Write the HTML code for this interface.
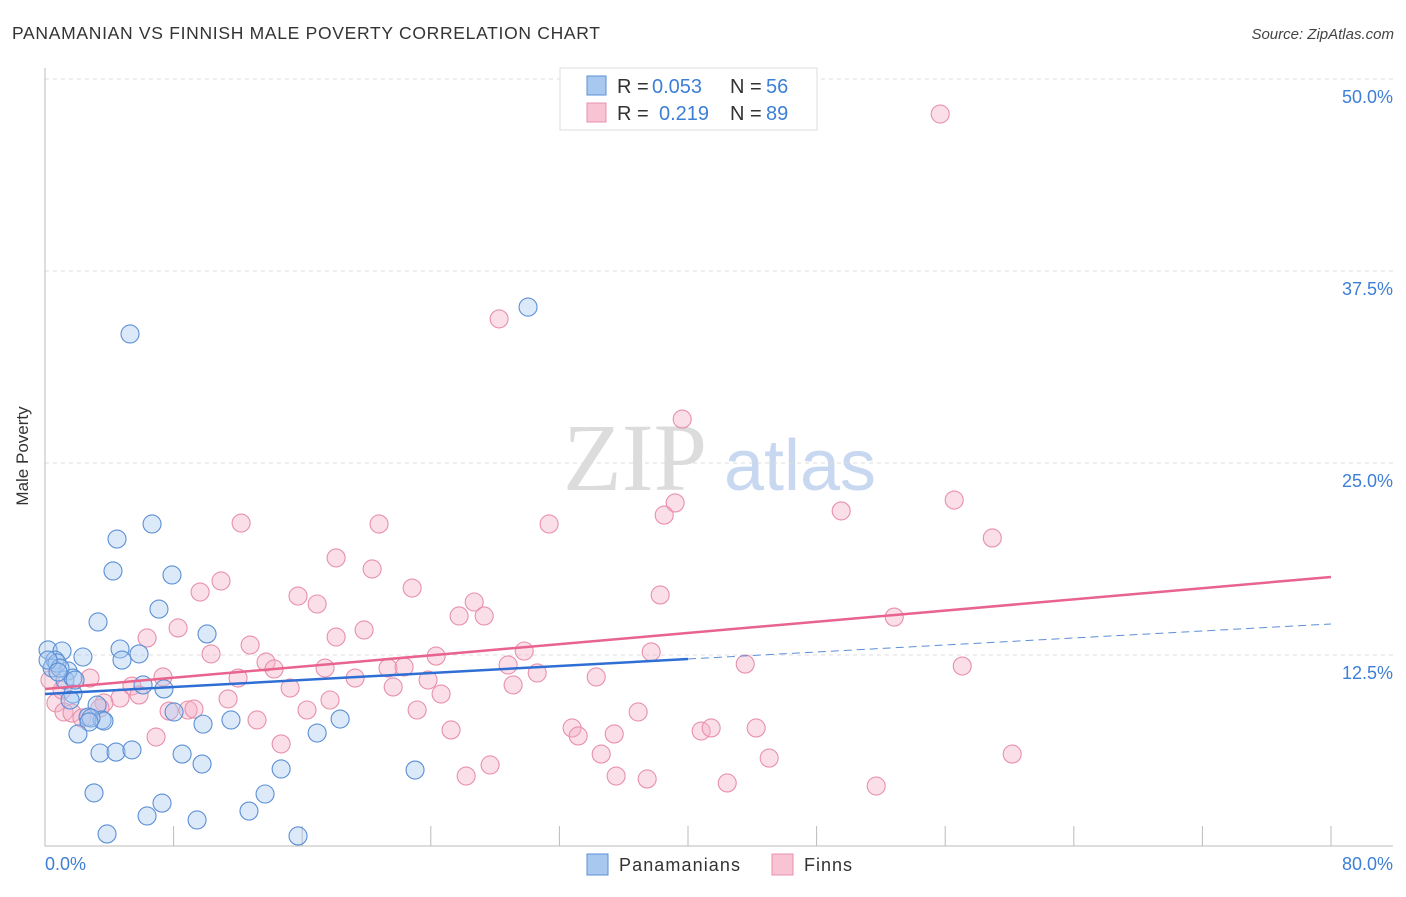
<!DOCTYPE html>
<html><head><meta charset="utf-8"><style>
body{margin:0;background:#fff;font-family:"Liberation Sans",sans-serif;}
</style></head><body>
<svg id="chart" width="1406" height="892" xmlns="http://www.w3.org/2000/svg">
<text x="12" y="39" font-size="17.5" fill="#333" textLength="588">PANAMANIAN VS FINNISH MALE POVERTY CORRELATION CHART</text>
<text x="1394" y="39" font-size="15" fill="#444" font-style="italic" text-anchor="end">Source: ZipAtlas.com</text>
<text x="635" y="490" font-size="96" fill="#dcdcdc" font-family="Liberation Serif,serif" text-anchor="middle">ZIP</text>
<text x="800" y="490" font-size="72" fill="#c7d8f0" text-anchor="middle">atlas</text>
<g id="grid"></g><g id="axes"></g><g id="pts"></g><g id="lines"></g>
<text x="28" y="456" font-size="17" fill="#333" text-anchor="middle" transform="rotate(-90 28 456)">Male Poverty</text>
<text x="45" y="870" font-size="18" fill="#3d7fd6">0.0%</text>
<text x="1393" y="870" font-size="18" fill="#3d7fd6" text-anchor="end">80.0%</text>
<g>
<rect x="560" y="68" width="257" height="62" fill="#fff" stroke="#ddd"/>
<rect x="587" y="76" width="19" height="19" fill="#a8c8f0" stroke="#5b8fd6"/>
<rect x="587" y="103" width="19" height="19" fill="#f8c4d3" stroke="#e890ab"/>
<text x="617" y="93" font-size="20" fill="#333">R = <tspan fill="#3d7fd6" x="652">0.053</tspan><tspan x="730">N = </tspan><tspan fill="#3d7fd6" x="766">56</tspan></text>
<text x="617" y="120" font-size="20" fill="#333">R = <tspan fill="#3d7fd6" x="659">0.219</tspan><tspan x="730">N = </tspan><tspan fill="#3d7fd6" x="766">89</tspan></text>
</g>
<g>
<rect x="587" y="854" width="21" height="21" fill="#a8c8f0" stroke="#5b8fd6"/>
<text x="619" y="871" font-size="18" fill="#333" textLength="121">Panamanians</text>
<rect x="772" y="854" width="21" height="21" fill="#f8c4d3" stroke="#e890ab"/>
<text x="804" y="871" font-size="18" fill="#333" textLength="48">Finns</text>
</g>
</svg>
<script>
const yTicks=[12.5,25,37.5,50];
const yTickLabels=["12.5%","25.0%","37.5%","50.0%"];
const blueX=[5.29,30.05,6.66,4.48,4.23,7.90,7.09,3.30,10.08,4.67,5.85,4.79,2.36,0.19,1.06,0.62,0.44,1.43,1.24,1.74,6.10,7.40,1.74,1.56,3.24,2.68,3.55,3.67,2.86,2.74,8.03,11.57,9.83,2.05,16.93,18.36,3.42,4.42,5.41,8.53,9.77,14.69,23.02,3.05,13.69,7.28,6.35,9.46,12.69,3.86,15.74,0.75,0.93,0.19,1.87,0.81];
const blueY=[33.4,35.15,21.03,20.05,17.97,17.71,15.49,14.65,13.87,12.89,12.57,12.17,12.37,12.83,12.76,12.17,11.65,11.46,10.87,11.0,10.55,10.29,9.96,9.57,9.24,8.46,8.27,8.2,8.4,8.14,8.79,8.27,8.0,7.36,7.42,8.33,6.12,6.18,6.32,6.05,5.4,5.08,5.01,3.52,3.45,2.86,2.02,1.76,2.34,0.85,0.72,11.98,11.65,12.17,10.87,11.39];
const pinkX=[55.69,28.25,39.64,39.20,38.52,56.56,49.53,12.20,20.78,31.36,58.93,18.11,20.35,10.95,9.65,22.84,15.74,16.93,38.27,26.70,25.76,27.32,52.83,8.28,19.85,6.35,12.76,18.11,29.81,10.33,24.33,37.71,13.75,14.25,17.42,21.34,22.34,28.81,43.56,57.06,30.62,7.34,12.01,19.29,23.83,34.29,2.80,5.41,15.25,21.66,29.12,24.64,5.85,4.67,3.67,11.39,17.73,0.68,7.72,8.90,9.27,16.30,23.15,36.90,1.18,1.68,3.42,13.19,2.30,32.79,33.17,35.41,40.82,41.44,44.24,25.26,6.91,14.69,34.60,45.05,60.17,27.69,26.20,35.53,37.46,42.44,51.71,1.06,0.31];
const pinkY=[47.72,34.38,27.86,22.40,21.61,22.59,21.88,21.09,21.03,21.03,20.12,18.82,18.10,17.32,16.60,16.86,16.34,15.82,16.41,15.95,15.04,15.04,14.97,14.26,14.13,13.61,13.15,13.67,12.76,12.57,12.43,12.70,12.04,11.59,11.65,11.65,11.72,11.85,11.91,11.78,11.33,11.07,11.0,11.0,10.87,11.07,11.0,10.48,10.35,10.42,10.55,9.96,9.90,9.70,9.38,9.64,9.57,9.38,8.85,8.92,8.98,8.92,8.92,8.79,8.79,8.72,9.05,8.27,8.40,7.75,7.23,7.36,7.55,7.75,7.75,7.62,7.16,6.71,6.05,5.79,6.05,5.34,4.62,4.62,4.43,4.17,3.97,10.22,10.87];
const blueTrend=[9.96,14.52];
const pinkTrend=[10.29,17.58];
const NS="http://www.w3.org/2000/svg";
const xs=v=>45+v*16.075, ys=v=>847-v*15.36;
function mk(t,a,p){const e=document.createElementNS(NS,t);for(const k in a)e.setAttribute(k,a[k]);p.appendChild(e);return e;}
const grid=document.getElementById('grid'),axes=document.getElementById('axes'),pts=document.getElementById('pts'),lines=document.getElementById('lines');
yTicks.forEach((t,i)=>{
 const l=mk('line',{x1:45,x2:1393,y1:ys(t),y2:ys(t),stroke:'#ddd','stroke-dasharray':'4,4'},grid);
 
 
 const tx=mk('text',{x:1393,y:ys(t)+24,'font-size':18,fill:'#3d7fd6','text-anchor':'end'},grid);
 tx.textContent=yTickLabels[i];
 
 
});
const ax=mk('path',{d:'M45,68 V846 H1393',fill:'none',stroke:'#bbb'},axes);


for(let i=1;i<=10;i++){
 const t=mk('line',{x1:xs(i*8),x2:xs(i*8),y1:826,y2:846,stroke:'#bbb'},axes);
 
 
}
function dots(X,Y,fill,stroke,name){
 X.forEach((x,i)=>{
  const c=mk('circle',{cx:xs(x),cy:ys(Y[i]),r:9,fill:fill,'fill-opacity':0.4,stroke:stroke,'stroke-width':1.1},pts);
  
  
 });
}
dots(pinkX,pinkY,'#f4b0c5','#e890ab','finns-point');
dots(blueX,blueY,'#a8c8f0','#5b8fd6','panamanians-point');
const bm=blueTrend[0]+(blueTrend[1]-blueTrend[0])*0.5;
const b1=mk('line',{x1:xs(0),y1:ys(blueTrend[0]),x2:xs(40),y2:ys(bm),stroke:'#2f6fd4','stroke-width':2.5},lines);


const b2=mk('line',{x1:xs(40),y1:ys(bm),x2:xs(80),y2:ys(blueTrend[1]),stroke:'#5b8fd6','stroke-width':1,'stroke-dasharray':'8,5'},lines);


const p1=mk('line',{x1:xs(0),y1:ys(pinkTrend[0]),x2:xs(80),y2:ys(pinkTrend[1]),stroke:'#e8638e','stroke-width':2.5},lines);


</script>
</body></html>
